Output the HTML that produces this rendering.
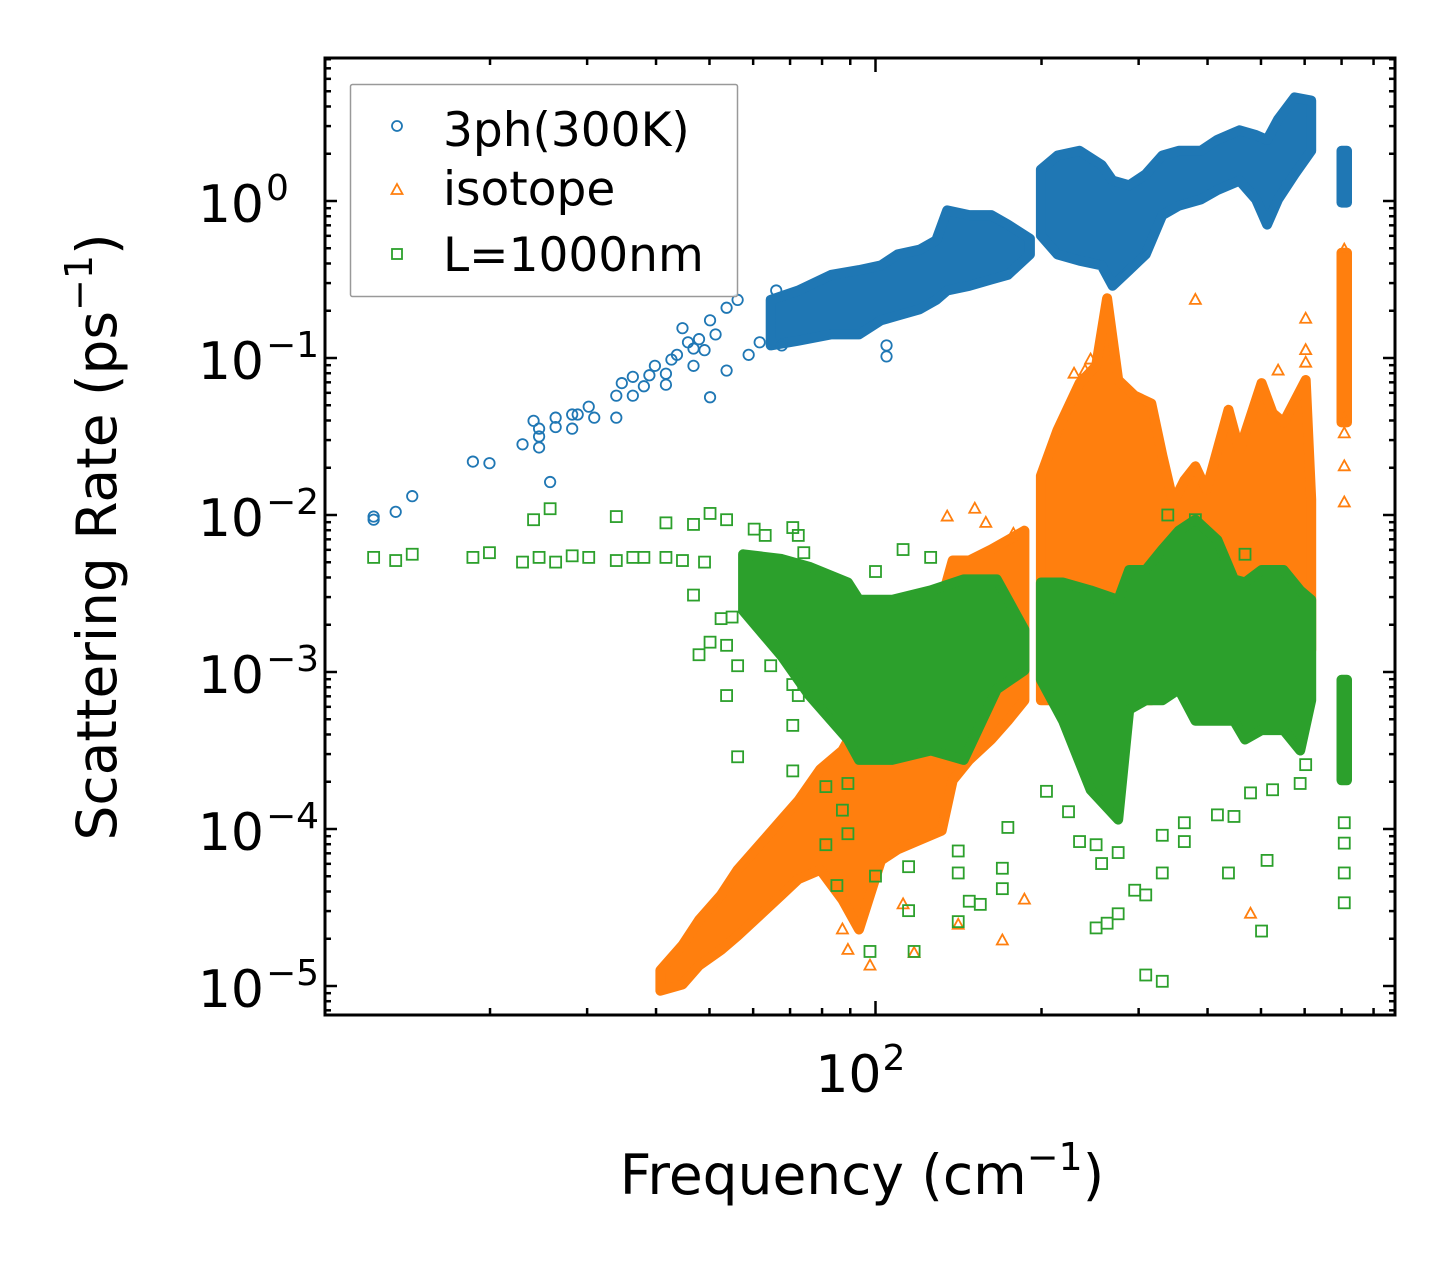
<!DOCTYPE html>
<html><head><meta charset="utf-8"><style>
html,body{margin:0;padding:0;background:#fff;}
svg{display:block;font-family:"DejaVu Sans","Liberation Sans",sans-serif;}
</style></head><body>
<svg id="chart" width="1455" height="1265" viewBox="0 0 1455 1265" xmlns="http://www.w3.org/2000/svg">
<rect x="0" y="0" width="1455" height="1265" fill="#fff"/>
<g id="marks"></g>
<g id="axes"></g>
<text x="862" y="1194" font-size="55" text-anchor="middle">Frequency (cm<tspan font-size="38" dy="-24">−1</tspan><tspan dy="24">)</tspan></text>
<text transform="translate(116,537) rotate(-90)" font-size="55" text-anchor="middle">Scattering Rate (ps<tspan font-size="38" dy="-24">−1</tspan><tspan dy="24">)</tspan></text>
<g>
<rect x="350.5" y="84.5" width="387" height="212" fill="#fff" fill-opacity="0.8" stroke="#999" stroke-width="1.5" rx="2"/>
<circle cx="397" cy="126" r="5" fill="none" stroke="#1f77b4" stroke-width="1.8"/>
<text x="443" y="146" font-size="47">3ph(300K)</text>
<path d="M397,184 L402.5,194 L391.5,194 Z" fill="none" stroke="#ff7f0e" stroke-width="1.8"/>
<text x="443" y="205" font-size="47">isotope</text>
<rect x="392" y="249" width="10" height="10" fill="none" stroke="#2ca02c" stroke-width="1.8"/>
<text x="443" y="271" font-size="47">L=1000nm</text>
</g>
</svg>
<script>
// Data in log10 units: [log10(frequency cm^-1), log10(rate ps^-1)]
const blueSparse = [[1.09,-2.01],[1.09,-2.03],[1.13,-1.98],[1.16,-1.88],[1.27,-1.66],[1.30,-1.67],[1.36,-1.55],[1.38,-1.40],[1.39,-1.45],[1.39,-1.50],[1.39,-1.57],[1.41,-1.79],[1.42,-1.38],[1.42,-1.44],[1.45,-1.45],[1.45,-1.36],[1.46,-1.36],[1.48,-1.31],[1.49,-1.38],[1.53,-1.38],[1.53,-1.24],[1.54,-1.16],[1.56,-1.12],[1.56,-1.24],[1.58,-1.18],[1.59,-1.11],[1.62,-1.17],[1.62,-1.10],[1.63,-1.01],[1.65,-0.81],[1.67,-0.94],[1.70,-1.25],[1.73,-1.08],[1.70,-0.76],[1.73,-0.68],[1.75,-0.63],[1.82,-0.57],[1.77,-0.98],[1.83,-0.92],[1.79,-0.90],[1.67,-1.05],[2.02,-0.99],[2.02,-0.92],[1.60,-1.05],[1.64,-0.98],[1.68,-0.88],[1.71,-0.85],[1.69,-0.95],[1.66,-0.90]];
// bands: [log10 f, log10 upper, log10 lower]
const blueBandA = [[1.81,-0.63,-0.92],[1.86,-0.57,-0.89],[1.92,-0.47,-0.85],[1.97,-0.44,-0.85],[2.01,-0.41,-0.76],[2.04,-0.34,-0.73],[2.08,-0.31,-0.69],[2.11,-0.25,-0.63],[2.13,-0.06,-0.57],[2.17,-0.09,-0.54],[2.21,-0.09,-0.50],[2.24,-0.15,-0.47],[2.28,-0.24,-0.34]];
const blueBandB = [[2.30,0.20,-0.22],[2.33,0.29,-0.34],[2.37,0.32,-0.38],[2.41,0.23,-0.41],[2.43,0.13,-0.54],[2.46,0.10,-0.44],[2.49,0.17,-0.34],[2.52,0.29,-0.09],[2.55,0.32,-0.03],[2.59,0.32,0.01],[2.62,0.39,0.07],[2.66,0.45,0.13],[2.69,0.42,0.01],[2.71,0.39,-0.15],[2.73,0.52,0.01],[2.76,0.66,0.17],[2.79,0.64,0.32]];
const blueBandC = [[2.845,0.32,-0.01],[2.855,0.32,-0.01]];

const orangeBandA = [[1.61,-4.90,-5.03],[1.65,-4.74,-4.99],[1.68,-4.58,-4.87],[1.72,-4.42,-4.77],[1.75,-4.26,-4.68],[1.79,-4.10,-4.55],[1.83,-3.94,-4.42],[1.86,-3.82,-4.32],[1.90,-3.62,-4.26],[1.94,-3.50,-4.45],[1.97,-3.31,-4.64],[2.01,-3.18,-4.20],[2.04,-3.11,-4.13],[2.08,-2.86,-4.07],[2.12,-2.54,-4.01],[2.14,-2.29,-3.69],[2.17,-2.29,-3.56],[2.21,-2.22,-3.43],[2.24,-2.16,-3.31],[2.27,-2.10,-3.18]];
const orangeBandB = [[2.30,-1.75,-3.18],[2.33,-1.46,-3.18],[2.37,-1.16,-3.18],[2.40,-1.05,-3.11],[2.42,-0.62,-3.18],[2.44,-1.14,-3.31],[2.47,-1.24,-3.18],[2.50,-1.29,-3.18],[2.52,-1.62,-3.05],[2.54,-1.92,-2.92],[2.56,-1.78,-2.92],[2.58,-1.69,-2.92],[2.60,-1.84,-2.92],[2.64,-1.33,-2.92],[2.66,-1.59,-2.92],[2.70,-1.16,-2.92],[2.72,-1.35,-2.92],[2.74,-1.41,-2.92],[2.78,-1.14,-2.92],[2.79,-1.90,-2.86]];
const orangeBandC = [[2.845,-0.33,-1.41],[2.855,-0.33,-1.41]];
const orangeSparse = [[2.58,-0.63],[2.78,-0.75],[2.78,-0.95],[2.78,-1.03],[2.73,-1.08],[2.85,-0.31],[2.85,-1.39],[2.85,-1.48],[2.85,-1.69],[2.85,-1.92],[2.13,-2.01],[2.18,-1.96],[2.27,-4.45],[2.23,-4.71],[2.68,-4.54],[1.99,-4.87],[2.07,-4.79],[1.94,-4.64],[1.95,-4.77],[2.05,-4.48],[2.15,-4.61],[2.38,-1.08],[2.39,-1.01],[2.36,-1.10],[2.10,-2.60],[2.20,-2.05],[2.25,-2.12]];

const greenBandA = [[1.76,-2.25,-2.61],[1.83,-2.28,-2.90],[1.88,-2.33,-3.15],[1.95,-2.43,-3.43],[1.97,-2.54,-3.56],[2.03,-2.54,-3.56],[2.10,-2.48,-3.50],[2.16,-2.41,-3.56],[2.22,-2.41,-3.11],[2.27,-2.73,-2.99]];
const greenBandB = [[2.30,-2.43,-3.05],[2.34,-2.43,-3.31],[2.39,-2.48,-3.75],[2.44,-2.54,-3.94],[2.46,-2.35,-3.24],[2.49,-2.35,-3.18],[2.52,-2.22,-3.18],[2.55,-2.10,-3.11],[2.58,-2.03,-3.31],[2.62,-2.16,-3.31],[2.65,-2.41,-3.31],[2.67,-2.43,-3.43],[2.70,-2.35,-3.37],[2.74,-2.35,-3.37],[2.77,-2.48,-3.50],[2.79,-2.54,-3.18]];
const greenBandC = [[2.845,-3.05,-3.69],[2.855,-3.05,-3.69]];
const greenSparse = [[1.09,-2.27],[1.13,-2.29],[1.16,-2.25],[1.27,-2.27],[1.30,-2.24],[1.36,-2.30],[1.38,-2.03],[1.41,-1.96],[1.39,-2.27],[1.42,-2.30],[1.45,-2.26],[1.48,-2.27],[1.53,-2.01],[1.53,-2.29],[1.56,-2.27],[1.58,-2.27],[1.62,-2.05],[1.67,-2.06],[1.70,-1.99],[1.73,-2.03],[1.62,-2.27],[1.65,-2.29],[1.69,-2.30],[1.78,-2.09],[1.85,-2.08],[1.80,-2.13],[1.86,-2.13],[1.87,-2.24],[1.67,-2.51],[1.70,-2.81],[1.68,-2.89],[1.73,-2.83],[1.72,-2.66],[1.74,-2.65],[1.75,-2.96],[1.73,-3.15],[1.75,-3.54],[1.85,-3.63],[1.81,-2.96],[1.85,-3.08],[1.86,-3.15],[1.85,-3.34],[1.91,-3.73],[1.95,-3.71],[1.94,-3.88],[1.91,-4.10],[1.93,-4.36],[1.95,-4.03],
[2.00,-2.36],[2.05,-2.22],[2.10,-2.27],[2.15,-4.14],[2.15,-4.28],[2.15,-4.59],[2.17,-4.46],[2.19,-4.48],[2.23,-4.25],[2.23,-4.38],[2.24,-3.99],[2.06,-4.52],[2.06,-4.24],[2.00,-4.30],[1.99,-4.78],[2.07,-4.78],[2.31,-3.76],[2.35,-3.89],[2.37,-4.08],[2.40,-4.10],[2.41,-4.22],[2.44,-4.15],[2.47,-4.39],[2.49,-4.42],[2.52,-4.28],[2.52,-4.04],[2.56,-3.96],[2.56,-4.08],[2.62,-3.91],[2.65,-3.92],[2.64,-4.28],[2.71,-4.20],[2.70,-4.65],[2.40,-4.63],[2.42,-4.60],[2.44,-4.54],[2.49,-4.93],[2.52,-4.97],[2.85,-4.28],[2.85,-4.47],[2.85,-4.09],[2.85,-3.96],[2.77,-3.71],[2.78,-3.59],[2.68,-3.77],[2.72,-3.75],[2.53,-2.00],[2.58,-2.03],[2.67,-2.25]];

const yDecades = [0,-1,-2,-3,-4,-5];
const yTickLabels = ["10","10","10","10","10","10"];
const yTickExps = ["0","−1","−2","−3","−4","−5"];
const xMajor = [2];
const xMajorLabels = ["10"];
const xMajorExps = ["2"];

const NS = "http://www.w3.org/2000/svg";
const L = 325, R = 1395, T = 58, B = 1015;
function X(lf){ return 875.5 + 551.5*(lf-2); }
function Y(lr){ return 201 - 157*lr; }
const marks = document.getElementById('marks');
const axes = document.getElementById('axes');
function mk(tag, attrs, parent){ const e=document.createElementNS(NS,tag); for(const k in attrs) e.setAttribute(k,attrs[k]); parent.appendChild(e); return e; }

const clip = mk('clipPath',{id:'pc'},document.getElementById('chart'));
mk('rect',{x:L,y:T,width:R-L,height:B-T},clip);
marks.setAttribute('clip-path','url(#pc)');

function band(data, color, name){
  let d = data.map((p,i)=>(i?'L':'M')+X(p[0]).toFixed(1)+','+Y(p[1]).toFixed(1)).join(' ');
  for(let i=data.length-1;i>=0;i--) d += ' L'+X(data[i][0]).toFixed(1)+','+Y(data[i][2]).toFixed(1);
  d += ' Z';
  const e = mk('path',{d:d,fill:color,stroke:color,'stroke-width':10,'stroke-linejoin':'round'},marks);
  
  
}
function circ(p){
  const e = mk('circle',{cx:X(p[0]),cy:Y(p[1]),r:5.2,fill:'none',stroke:'#1f77b4','stroke-width':1.8},marks);
  
  
}
function tri(p){
  const x=X(p[0]), y=Y(p[1]);
  const e = mk('path',{d:`M${x},${y-6} L${x+5.5},${y+4} L${x-5.5},${y+4} Z`,fill:'none',stroke:'#ff7f0e','stroke-width':1.8},marks);
  
  
}
function sq(p){
  const e = mk('rect',{x:X(p[0])-5.5,y:Y(p[1])-5.5,width:11,height:11,fill:'none',stroke:'#2ca02c','stroke-width':1.8},marks);
  
  
}
band(blueBandA,'#1f77b4','band-3ph-a'); band(blueBandB,'#1f77b4','band-3ph-b'); band(blueBandC,'#1f77b4','band-3ph-c');
blueSparse.forEach(circ);
band(orangeBandA,'#ff7f0e','band-isotope-a'); band(orangeBandB,'#ff7f0e','band-isotope-b'); band(orangeBandC,'#ff7f0e','band-isotope-c');
orangeSparse.forEach(tri);
band(greenBandA,'#2ca02c','band-l1000nm-a'); band(greenBandB,'#2ca02c','band-l1000nm-b'); band(greenBandC,'#2ca02c','band-l1000nm-c');
greenSparse.forEach(sq);

function line(x1,y1,x2,y2,w,name){
  const e = mk('line',{x1:x1,y1:y1,x2:x2,y2:y2,stroke:'#000','stroke-width':w},axes);
  
  
}
for(let d=-6; d<=1; d++){
  for(let m=1;m<10;m++){
    const lr = d + Math.log10(m);
    const y = Y(lr);
    if(y<T||y>B) continue;
    const len = m===1?12:6;
    line(L,y,L+len,y,2.5,'y-tick'); line(R,y,R-len,y,2.5,'y-tick');
  }
}
for(let d=1; d<=2; d++){
  for(let m=1;m<10;m++){
    const lf = d + Math.log10(m);
    const x = X(lf);
    if(x<L+2||x>R-2) continue;
    const len = m===1?14:7;
    line(x,B,x,B-len,2.5,'x-tick'); line(x,T,x,T+len,2.5,'x-tick');
  }
}
yDecades.forEach((v,i)=>{
  const t = mk('text',{x:264,y:Y(v)+21,'font-size':52,'text-anchor':'end'},axes);
  
  
  t.textContent = yTickLabels[i];
  const s = mk('text',{x:266,y:Y(v)-1,'font-size':36,'text-anchor':'start'},axes);
  
  
  s.textContent = yTickExps[i];
});
xMajor.forEach((v,i)=>{
  const t = mk('text',{x:X(v)+6,y:1092,'font-size':52,'text-anchor':'end'},axes);
  
  
  t.textContent = xMajorLabels[i];
  const s = mk('text',{x:X(v)+7,y:1070,'font-size':36},axes);
  
  
  s.textContent = xMajorExps[i];
});
const frame = mk('rect',{x:L,y:T,width:R-L,height:B-T,fill:'none',stroke:'#000','stroke-width':3},axes);


</script>
</body></html>
